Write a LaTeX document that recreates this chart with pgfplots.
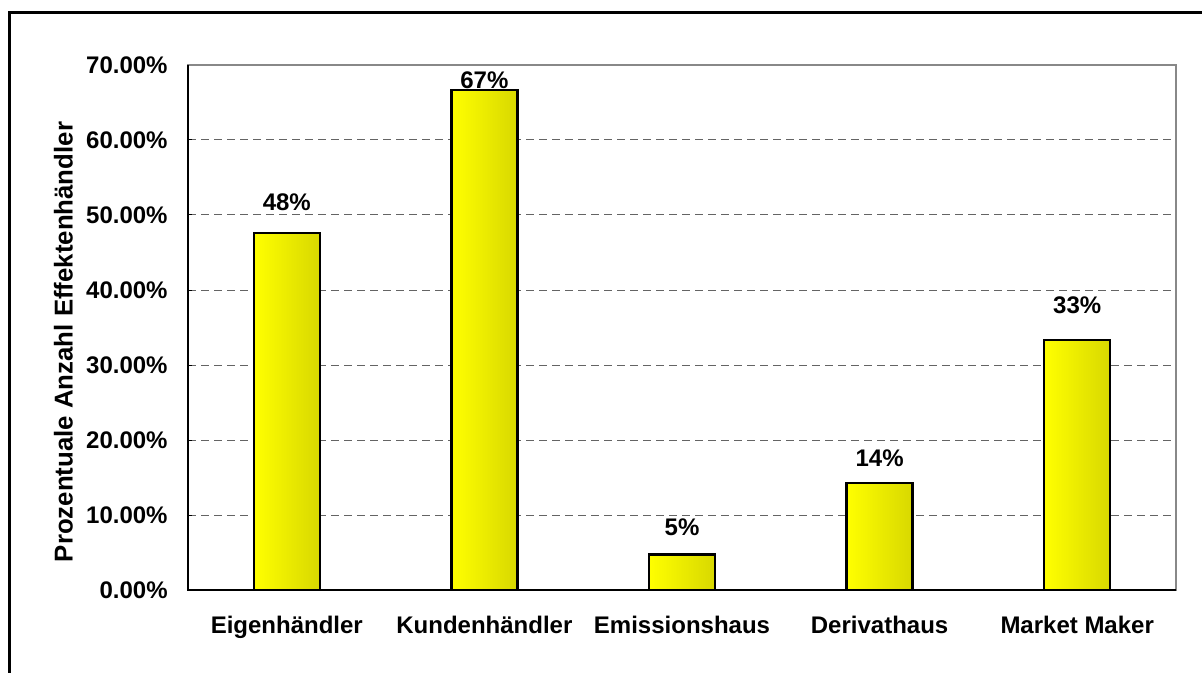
\documentclass[border=0pt]{standalone}
\usepackage{pgfplots}
\pgfplotsset{compat=1.18}
\usepackage{fontspec}
\setmainfont{Liberation Sans}
\definecolor{barR}{RGB}{216,216,0}
\definecolor{gridc}{RGB}{100,100,100}
\definecolor{frameg}{RGB}{136,136,136}
\pgfplotsset{
  mybar/.style={draw=black, line width=1.2pt, left color=yellow, right color=barR,
    nodes near coords={\pgfmathprintnumber[fixed,precision=0]{\pgfplotspointmeta}\%},
    every node near coord/.append style={anchor=center, yshift=#1, font=\fontsize{12}{14}\selectfont\bfseries, text=black}},
}
\begin{document}
\begin{tikzpicture}
\path[use as bounding box] (0,0) rectangle (601pt,-336.5pt);
\draw[line width=1.3pt] (4.75pt,-336.5pt) -- (4.75pt,-6.25pt) -- (601pt,-6.25pt);
\node[rotate=90, font=\fontsize{12.9}{15}\selectfont\bfseries] at (31.75pt,-171pt) {Prozentuale Anzahl Effektenhändler};
\begin{axis}[
  at={(94pt,-295pt)}, anchor=south west,
  width=494pt, height=262.5pt, scale only axis,
  xmin=-0.5, xmax=4.5, ymin=0, ymax=70,
  ybar, bar width=33pt, bar shift=0pt,
  /pgf/number format/assume math mode=true,
  xtick={0,1,2,3,4},
  xticklabels={Eigenhändler,Kundenhändler,Emissionshaus,Derivathaus,Market Maker},
  ytick={0,10,20,30,40,50,60,70},
  yticklabels={0.00\%,10.00\%,20.00\%,30.00\%,40.00\%,50.00\%,60.00\%,70.00\%},
  xtick style={draw=none},
  ytick style={black, line width=0.5pt},
  major tick length=1.75pt,
  tick align=inside,
  tick pos=left,
  ticklabel style={font=\fontsize{12}{14}\selectfont\bfseries},
  yticklabel style={anchor=east, inner sep=0pt, xshift=-10pt},
  xticklabel style={anchor=base, inner sep=0pt, yshift=-21.5pt},
  extra x ticks={-0.5,0.5,1.5,2.5,3.5,4.5},
  extra x tick labels={},
  extra x tick style={grid=none, major tick length=3.5pt, tick align=outside, tick style={draw=black, line width=0.6pt}},
  ymajorgrids,
  major grid style={gridc, dash pattern=on 4pt off 2.5pt, line width=0.5pt},
  axis line style={frameg, line width=0.9pt},
  clip=false,
]
\addplot[mybar=15.5pt] coordinates {(0,47.62)};
\addplot[mybar=5pt] coordinates {(1,66.67)};
\addplot[mybar=13.5pt] coordinates {(2,4.76)};
\addplot[mybar=12.5pt] coordinates {(3,14.29)};
\addplot[mybar=17.5pt] coordinates {(4,33.33)};
\draw[black, line width=0.7pt] (rel axis cs:0,1) -- (rel axis cs:0,0) -- (rel axis cs:1,0);
\end{axis}
\end{tikzpicture}
\end{document}
